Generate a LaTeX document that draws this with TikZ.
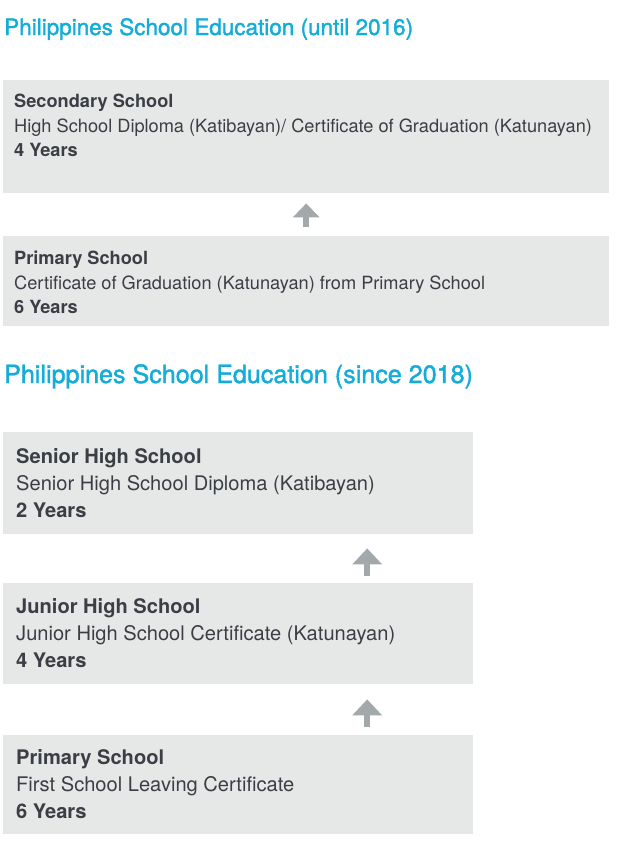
\documentclass[tikz,border=0pt]{standalone}
\usepackage{fontspec}
\setmainfont{TeX Gyre Heros}
\newfontfamily\headfont[FakeBold=1.6]{TeX Gyre Heros}
\usetikzlibrary{arrows.meta,calc}
\definecolor{titlecyan}{RGB}{20,172,216}
\definecolor{boxgray}{RGB}{230,231,231}
\definecolor{textgray}{RGB}{59,62,69}
\definecolor{arrowgray}{RGB}{163,169,171}
\tikzset{
%Define style for the section headings
heading/.style={anchor=base west, inner sep=0pt, text=titlecyan},
%Define style for the grey boxes and the text set in them
school box/.style={fill=boxgray, anchor=north west, inner sep=0pt},
box text/.style={anchor=north west, inner sep=0pt, align=left, text=textgray},
old text/.style={box text, font=\fontsize{18.2}{24.5}\selectfont},
new text/.style={box text, font=\fontsize{20.1}{27}\selectfont},
%Define style for the thick grey arrows
up arrow/.style={draw=arrowgray, line width=6pt,
  -{Triangle[width=26pt,length=14pt]}},
big up arrow/.style={draw=arrowgray, line width=6pt,
  -{Triangle[width=29pt,length=16pt]}},
}

\begin{document}
\begin{tikzpicture}[x=1pt,y=1pt]

\useasboundingbox (0,0) rectangle (629,-844);

% until 2016
\node[heading, font=\headfont\fontsize{22.5}{27}\selectfont] (head1) at (4,-35)
{Philippines School Education (until 2016)};

\node[school box, minimum width=606pt, minimum height=113pt] (sec) at (3,-80) {};
\node[old text] (sectext) at (14,-94)
{\textbf{Secondary School}\\
High School Diploma (Katibayan)/ Certificate of Graduation (Katunayan)\\
\textbf{4 Years}};

\node[school box, minimum width=606pt, minimum height=90pt] (pri) at (3,-236) {};
\node[old text] (pritext) at (14,-251)
{\textbf{Primary School}\\
Certificate of Graduation (Katunayan) from Primary School\\
\textbf{6 Years}};

\draw[up arrow, shorten <=9pt, shorten >=10pt] (pri.north) -- (sec.south);

% since 2018
\node[heading, font=\headfont\fontsize{25.1}{30}\selectfont] (head2) at (4,-383)
{Philippines School Education (since 2018)};

\node[school box, minimum width=470pt, minimum height=102pt] (shs) at (3,-432) {};
\node[new text] (shstext) at (16,-448)
{\textbf{Senior High School}\\
Senior High School Diploma (Katibayan)\\
\textbf{2 Years}};

\node[school box, minimum width=470pt, minimum height=101pt] (jhs) at (3,-583) {};
\node[new text] (jhstext) at (16,-598)
{\textbf{Junior High School}\\
Junior High School Certificate (Katunayan)\\
\textbf{4 Years}};

\node[school box, minimum width=470pt, minimum height=99pt] (prim) at (3,-735) {};
\node[new text] (primtext) at (16,-749)
{\textbf{Primary School}\\
First School Leaving Certificate\\
\textbf{6 Years}};

\draw[big up arrow, shorten <=7pt, shorten >=14pt]
([xshift=129pt]jhs.north) -- ([xshift=129pt]shs.south);
\draw[big up arrow, shorten <=8pt, shorten >=15pt]
([xshift=129pt]prim.north) -- ([xshift=129pt]jhs.south);

\end{tikzpicture}
\end{document}
